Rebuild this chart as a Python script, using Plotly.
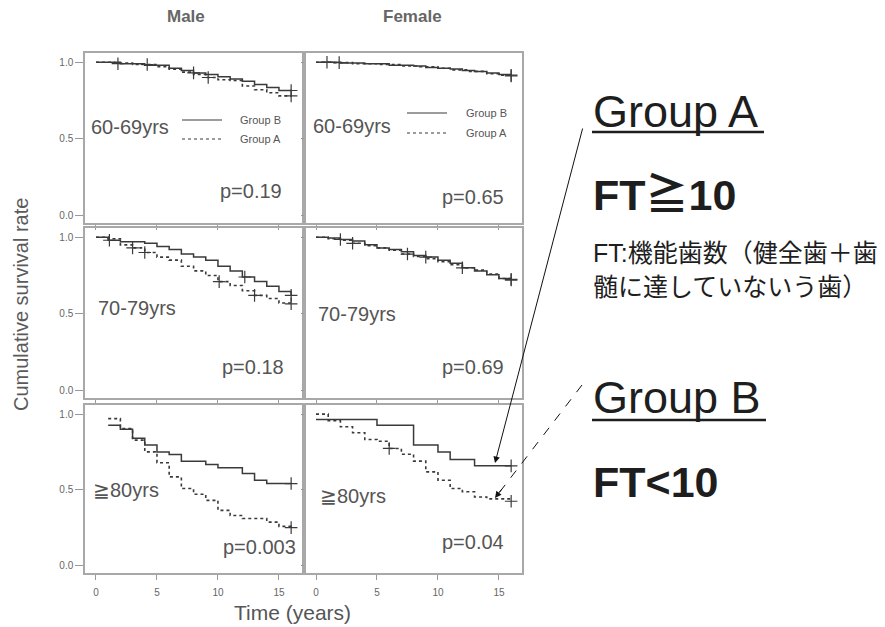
import plotly.graph_objects as go

W, H = 885, 627

# ---------------- data ----------------
panel_titles = ["60-69yrs", "60-69yrs", "70-79yrs", "70-79yrs", "\u226780yrs", "\u226780yrs"]
p_values = ["p=0.19", "p=0.65", "p=0.18", "p=0.69", "p=0.003", "p=0.04"]
sex_labels = ["Male", "Female"]
x_ticks = [0, 5, 10, 15]
y_ticks = [0.0, 0.5, 1.0]
y_ticktext = ["0.0", "0.5", "1.0"]

# Male 60-69
m60_B_t = [0, 2, 4, 6, 7, 8, 9, 10, 11, 12, 13, 14, 15, 16]
m60_B_s = [1.0, 0.99, 0.98, 0.96, 0.945, 0.93, 0.92, 0.905, 0.89, 0.875, 0.855, 0.835, 0.815, 0.815]
m60_A_t = [0, 1.5, 3, 5, 6, 7, 8, 9, 10, 11, 12, 13, 14, 15, 16]
m60_A_s = [1.0, 0.995, 0.985, 0.97, 0.955, 0.935, 0.92, 0.9, 0.885, 0.88, 0.845, 0.82, 0.80, 0.78, 0.78]
m60_B_ct = [1.8, 8.0, 16.0]
m60_B_cs = [0.99, 0.93, 0.815]
m60_A_ct = [4.2, 9.2, 16.0]
m60_A_cs = [0.985, 0.9, 0.78]

# Female 60-69
f60_B_t = [0, 2, 4, 6, 8, 9, 10, 11, 12, 13, 14, 15, 16]
f60_B_s = [1.0, 0.995, 0.99, 0.98, 0.975, 0.965, 0.96, 0.955, 0.945, 0.94, 0.93, 0.92, 0.915]
f60_A_t = [0, 1.5, 3, 5, 7, 8.5, 10, 11, 12.5, 14, 15, 16]
f60_A_s = [1.0, 0.997, 0.99, 0.985, 0.975, 0.97, 0.96, 0.95, 0.94, 0.925, 0.915, 0.91]
f60_B_ct = [0.9, 1.9, 16.0]
f60_B_cs = [1.0, 0.997, 0.915]
f60_A_ct = [16.0]
f60_A_cs = [0.91]

# Male 70-79
m70_B_t = [0, 1, 2, 4, 5, 6, 7, 8, 9, 10, 11, 12, 13, 14, 15, 16]
m70_B_s = [1.0, 0.98, 0.97, 0.96, 0.94, 0.92, 0.89, 0.87, 0.85, 0.81, 0.78, 0.74, 0.71, 0.68, 0.645, 0.62]
m70_A_t = [0, 1, 2, 3, 4, 5, 6, 7, 8, 9, 10, 11, 12, 13, 14, 15, 16]
m70_A_s = [1.0, 0.99, 0.95, 0.93, 0.90, 0.87, 0.85, 0.81, 0.78, 0.75, 0.71, 0.685, 0.65, 0.62, 0.60, 0.57, 0.565]
m70_B_ct = [1.1, 12.2, 16.0]
m70_B_cs = [0.98, 0.74, 0.62]
m70_A_ct = [3.0, 4.0, 10.1, 13.0, 16.0]
m70_A_cs = [0.93, 0.90, 0.71, 0.62, 0.565]

# Female 70-79
f70_B_t = [0, 1, 2, 3, 4, 5, 6, 7, 8, 9, 10, 11, 12, 13, 14, 15, 16]
f70_B_s = [1.0, 0.995, 0.985, 0.975, 0.95, 0.93, 0.92, 0.905, 0.88, 0.87, 0.85, 0.83, 0.80, 0.78, 0.755, 0.73, 0.725]
f70_A_t = [0, 1, 2, 3, 4, 5, 6, 7, 8, 9, 10, 11, 12, 13, 14, 15, 16]
f70_A_s = [1.0, 0.99, 0.98, 0.96, 0.945, 0.93, 0.915, 0.89, 0.875, 0.86, 0.84, 0.82, 0.80, 0.785, 0.76, 0.73, 0.72]
f70_B_ct = [2.0, 9.0, 16.0]
f70_B_cs = [0.985, 0.87, 0.725]
f70_A_ct = [3.0, 7.5, 12.0, 16.0]
f70_A_cs = [0.96, 0.89, 0.80, 0.72]

# Male >=80
m80_B_t = [1, 2, 3, 4, 5, 6, 7, 9, 10, 12, 13, 14, 16]
m80_B_s = [0.927, 0.90, 0.84, 0.795, 0.75, 0.733, 0.689, 0.667, 0.645, 0.607, 0.563, 0.541, 0.541]
m80_A_t = [1, 2, 3, 4, 5, 6, 7, 8, 9, 10, 11, 12, 14, 15, 16]
m80_A_s = [0.97, 0.905, 0.828, 0.75, 0.678, 0.585, 0.508, 0.47, 0.43, 0.364, 0.33, 0.31, 0.286, 0.258, 0.25]
m80_B_ct = [16.0]
m80_B_cs = [0.541]
m80_A_ct = [16.0]
m80_A_cs = [0.25]

# Female >=80
f80_B_t = [0, 5, 8, 10, 11, 13, 16]
f80_B_s = [0.965, 0.927, 0.795, 0.75, 0.70, 0.658, 0.658]
f80_A_t = [0, 1, 2, 3, 4, 5, 6, 7, 8, 9, 10, 11, 12, 13, 14, 16]
f80_A_s = [1.0, 0.956, 0.916, 0.877, 0.832, 0.82, 0.773, 0.735, 0.689, 0.618, 0.563, 0.508, 0.487, 0.452, 0.44, 0.424]
f80_B_ct = [16.0]
f80_B_cs = [0.658]
f80_A_ct = [6.0, 16.0]
f80_A_cs = [0.773, 0.424]

panels = [
    (m60_B_t, m60_B_s, m60_A_t, m60_A_s, m60_B_ct, m60_B_cs, m60_A_ct, m60_A_cs),
    (f60_B_t, f60_B_s, f60_A_t, f60_A_s, f60_B_ct, f60_B_cs, f60_A_ct, f60_A_cs),
    (m70_B_t, m70_B_s, m70_A_t, m70_A_s, m70_B_ct, m70_B_cs, m70_A_ct, m70_A_cs),
    (f70_B_t, f70_B_s, f70_A_t, f70_A_s, f70_B_ct, f70_B_cs, f70_A_ct, f70_A_cs),
    (m80_B_t, m80_B_s, m80_A_t, m80_A_s, m80_B_ct, m80_B_cs, m80_A_ct, m80_A_cs),
    (f80_B_t, f80_B_s, f80_A_t, f80_A_s, f80_B_ct, f80_B_cs, f80_A_ct, f80_A_cs),
]

# ---------------- layout helpers ----------------
def px(x):
    return x / W

def py(y):
    return 1 - y / H

FONT = "Liberation Sans, Arial, Helvetica, sans-serif"
CJK = "Liberation Sans, Noto Sans CJK JP, sans-serif"
GREY_TXT = "#555555"
CURVE = "#3a3a3a"

col_px = [(85, 302), (306, 522)]
row_px = [(53, 223), (228, 398), (405, 573)]
x_ranges = [[-0.90, 16.89], [-0.82, 16.89]]
y_range = [-0.05, 1.06]

fig = go.Figure()
layout = {}
for i, (bt, bs, at, as_, bct, bcs, act, acs) in enumerate(panels):
    r, c = divmod(i, 2)
    k = i + 1
    xn = "x" if k == 1 else f"x{k}"
    yn = "y" if k == 1 else f"y{k}"
    fig.add_trace(go.Scatter(x=bt, y=bs, mode="lines", line=dict(color=CURVE, width=1.5, shape="hv"),
                             xaxis=xn, yaxis=yn, showlegend=False, hoverinfo="skip"))
    fig.add_trace(go.Scatter(x=at, y=as_, mode="lines", line=dict(color=CURVE, width=1.6, shape="hv", dash="dot"),
                             xaxis=xn, yaxis=yn, showlegend=False, hoverinfo="skip"))
    fig.add_trace(go.Scatter(x=bct + act, y=bcs + acs, mode="markers",
                             marker=dict(symbol="cross-thin", size=9, line=dict(color=CURVE, width=1.2)),
                             xaxis=xn, yaxis=yn, showlegend=False, hoverinfo="skip"))
    axline = dict(showline=True, mirror=True, linecolor="#a8a8a8", linewidth=1.5,
                  showgrid=False, zeroline=False, ticks="outside", tickcolor="#999",
                  tickfont=dict(size=10, color="#666", family=FONT))
    layout["xaxis" if k == 1 else f"xaxis{k}"] = dict(
        domain=[px(col_px[c][0]), px(col_px[c][1])], range=x_ranges[c], anchor=yn,
        tickvals=x_ticks, ticklen=5, showticklabels=(r == 2), ticklabelstandoff=4, fixedrange=True, **axline)
    layout["yaxis" if k == 1 else f"yaxis{k}"] = dict(
        domain=[py(row_px[r][1]), py(row_px[r][0])], range=y_range, anchor=xn,
        tickvals=y_ticks, ticktext=y_ticktext, ticklen=(8 if c == 0 else 3),
        showticklabels=(c == 0), fixedrange=True, **axline)

annotations = []
def text(s, x, y, size, color=GREY_TXT, bold=False, anchor="left", family=FONT, angle=0, vanchor="middle"):
    annotations.append(dict(text=(f"<b>{s}</b>" if bold else s), x=px(x), y=py(y), xref="paper", yref="paper",
                            xanchor=anchor, yanchor=vanchor, showarrow=False, textangle=angle,
                            font=dict(size=size, color=color, family=family)))

# panel labels and p-values
title_pos = [(89, 127), (311, 126), (96, 308), (316, 314), (91, 490), (318, 496)]
p_pos = [(218, 191), (440, 197), (220, 367), (440, 367), (221, 547), (440, 542)]
for i in range(6):
    text(panel_titles[i], *title_pos[i], 20)
    text(p_values[i], *p_pos[i], 20)

shapes = []
# in-panel legends (top row)
for (lx0, lx1, yb, ya, tx) in [(182, 222, 120, 139, 238), (407, 447, 113, 133, 464)]:
    shapes.append(dict(type="line", xref="paper", yref="paper", x0=px(lx0), x1=px(lx1), y0=py(yb), y1=py(yb),
                       line=dict(color=CURVE, width=1.2)))
    shapes.append(dict(type="line", xref="paper", yref="paper", x0=px(lx0), x1=px(lx1), y0=py(ya), y1=py(ya),
                       line=dict(color=CURVE, width=1.2, dash="dot")))
    text("Group B", tx, yb, 11)
    text("Group A", tx, ya, 11)

# headers and axis titles
text(sex_labels[0], 186, 17, 17, color="#666", bold=True, anchor="center")
text(sex_labels[1], 412, 17, 17, color="#666", bold=True, anchor="center")
text("Time (years)", 292, 626, 21, color="#555", anchor="center", vanchor="bottom")
text("Cumulative survival rate", 21, 305, 20, color="#5a5a5a", anchor="center", angle=-90)

# right-side explanation
BLACK = "#1e1e1e"
text("Group A", 591, 111, 45, color=BLACK)
shapes.append(dict(type="line", xref="paper", yref="paper", x0=px(592), x1=px(764), y0=py(132), y1=py(132),
                   line=dict(color=BLACK, width=2.5)))
text("FT\u226710", 591, 195, 43, color=BLACK, bold=True, family=CJK)
text("FT:機能歯数（健全歯＋歯", 591, 253, 25, color=BLACK, family=CJK)
text("髄に達していないう歯）", 591, 287, 25, color=BLACK, family=CJK)
text("Group B", 591, 398, 45, color=BLACK)
shapes.append(dict(type="line", xref="paper", yref="paper", x0=px(592), x1=px(766), y0=py(420), y1=py(420),
                   line=dict(color=BLACK, width=2.5)))
text("FT<10", 591, 482, 43, color=BLACK, bold=True)

# arrows
annotations.append(dict(x=px(495), y=py(463), xref="paper", yref="paper", ax=88, ay=-336, text="",
                        showarrow=True, arrowhead=2, arrowsize=1.3, arrowwidth=1, arrowcolor="#111"))
shapes.append(dict(type="line", xref="paper", yref="paper", x0=px(582), y0=py(385), x1=px(497), y1=py(495.5),
                   line=dict(color="#111", width=1, dash="dash")))
annotations.append(dict(x=px(495), y=py(498), xref="paper", yref="paper", ax=8, ay=-10.5, text="",
                        showarrow=True, arrowhead=2, arrowsize=1.3, arrowwidth=1, arrowcolor="#111"))

fig.update_layout(width=W, height=H, margin=dict(l=0, r=0, t=0, b=0), paper_bgcolor="white",
                  plot_bgcolor="white", annotations=annotations, shapes=shapes, showlegend=False, **layout)
fig.write_html("out.html", config={"displayModeBar": False},
               post_script="document.body.style.margin='0';document.body.style.overflow='hidden';")
